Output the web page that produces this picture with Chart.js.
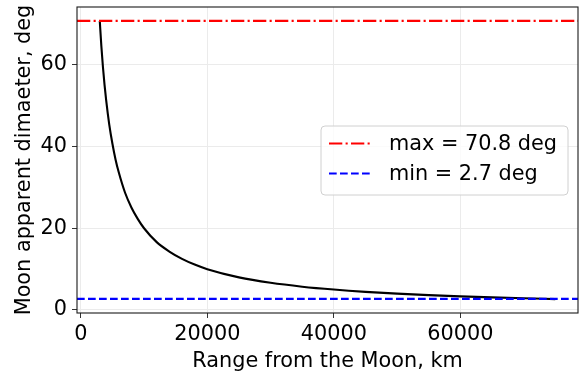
<!DOCTYPE html>
<html>
<head>
<meta charset="utf-8">
<script src="https://cdn.jsdelivr.net/npm/chart.js@4"></script>
<style>
  body { margin: 0; background: #fff; }
</style>
</head>
<body>
<canvas id="chart" width="583" height="375"></canvas>
<script>
// range from the Moon (km) and apparent diameter (deg)
var range = [3000, 3250, 3500, 3750, 4000, 4500, 5000, 5500, 6000, 7000, 8000, 9000, 10000,
  12000, 14000, 16000, 18000, 20000, 25000, 30000, 35000, 40000, 45000, 50000,
  55000, 60000, 65000, 70000, 75000];
var diameter = [70.8, 64.6, 59.5, 55.2, 51.5, 45.4, 40.7, 36.8, 33.7, 28.7, 25.1, 22.3, 20.0,
  16.6, 14.3, 12.5, 11.1, 9.97, 7.97, 6.64, 5.69, 4.98, 4.42, 3.98,
  3.62, 3.32, 3.06, 2.84, 2.65];

var maxDiameter = 70.8;
var minDiameter = 2.7;

var xLimits = [-600, 78600];
var yLimits = [-0.76, 74.2];
var xTicks = [0, 20000, 40000, 60000];
var yTicks = [0, 20, 40, 60];

var FONT = { family: "DejaVu Sans", size: 20.8 };

function hline(value) {
  return xLimits.map(function (x) { return { x: x, y: value }; });
}

// matplotlib style inner legend + full frame
var frameAndLegend = {
  id: "frameAndLegend",
  afterDraw: function (chart) {
    var ctx = chart.ctx;
    var a = chart.chartArea;
    ctx.save();
    ctx.strokeStyle = "#1a1a1a";
    ctx.lineWidth = 1.1;
    ctx.strokeRect(a.left, a.top, a.right - a.left, a.bottom - a.top);

    // legend box
    var bx = 321, by = 126, bw = 247, bh = 69;
    ctx.beginPath();
    ctx.roundRect(bx, by, bw, bh, 4);
    ctx.fillStyle = "rgba(255,255,255,0.8)";
    ctx.fill();
    ctx.strokeStyle = "#d0d0d0";
    ctx.lineWidth = 1;
    ctx.stroke();

    var items = chart.data.datasets.filter(function (d) { return d.label; });
    ctx.font = FONT.size + "px " + FONT.family;
    ctx.textBaseline = "middle";
    items.forEach(function (d, i) {
      var y = 143.5 + i * 30;
      ctx.beginPath();
      ctx.strokeStyle = d.borderColor;
      ctx.lineWidth = d.borderWidth;
      ctx.setLineDash(d.borderDash);
      ctx.moveTo(329, y);
      ctx.lineTo(371, y);
      ctx.stroke();
      ctx.setLineDash([]);
      ctx.fillStyle = "#000";
      ctx.fillText(d.label, 389, y + 1);
    });
    ctx.restore();
  }
};

var ctx = document.getElementById("chart").getContext("2d");
var chart = new Chart(ctx, {
  type: "line",
  data: {
    datasets: [
      {
        data: range.map(function (r, i) { return { x: r, y: diameter[i] }; }),
        borderColor: "#000",
        borderWidth: 2.1,
        pointRadius: 0,
        cubicInterpolationMode: "monotone",
        order: 3
      },
      {
        label: "max = " + maxDiameter + " deg",
        data: hline(maxDiameter),
        borderColor: "#ff0000",
        borderWidth: 2.1,
        borderDash: [13.3, 3.3, 2.1, 3.3],
        pointRadius: 0,
        order: 2
      },
      {
        label: "min = " + minDiameter + " deg",
        data: hline(minDiameter),
        borderColor: "#0000ff",
        borderWidth: 2.1,
        borderDash: [7.7, 3.3],
        pointRadius: 0,
        order: 1
      }
    ]
  },
  options: {
    responsive: false,
    animation: false,
    devicePixelRatio: 1,
    layout: { padding: { top: 7, right: 5, left: 0, bottom: 0 } },
    plugins: {
      legend: { display: false },
      tooltip: { enabled: false }
    },
    scales: {
      x: {
        type: "linear",
        min: xLimits[0],
        max: xLimits[1],
        afterBuildTicks: function (s) { s.ticks = xTicks.map(function (v) { return { value: v }; }); },
        afterFit: function (s) { s.height = 62; s.paddingLeft = 0; s.paddingRight = 0; },
        border: { display: false },
        grid: { color: "#ebebeb", lineWidth: 1, tickColor: "#333", tickLength: 5 },
        ticks: { font: FONT, color: "#000", padding: 4, maxRotation: 0, callback: function (v) { return String(v); } },
        title: { display: true, text: "Range from the Moon, km", font: FONT, color: "#000", padding: { top: 0, bottom: 1 } }
      },
      y: {
        min: yLimits[0],
        max: yLimits[1],
        afterBuildTicks: function (s) { s.ticks = yTicks.map(function (v) { return { value: v }; }); },
        afterFit: function (s) { s.width = 77; s.paddingTop = 0; s.paddingBottom = 0; },
        border: { display: false },
        grid: { color: "#ebebeb", lineWidth: 1, tickColor: "#333", tickLength: 5 },
        ticks: { font: FONT, color: "#000", padding: 5 },
        title: { display: true, text: "Moon apparent dimaeter, deg", font: FONT, color: "#000", padding: { top: 12, bottom: 0 } }
      }
    }
  },
  plugins: [frameAndLegend]
});
</script>
</body>
</html>
